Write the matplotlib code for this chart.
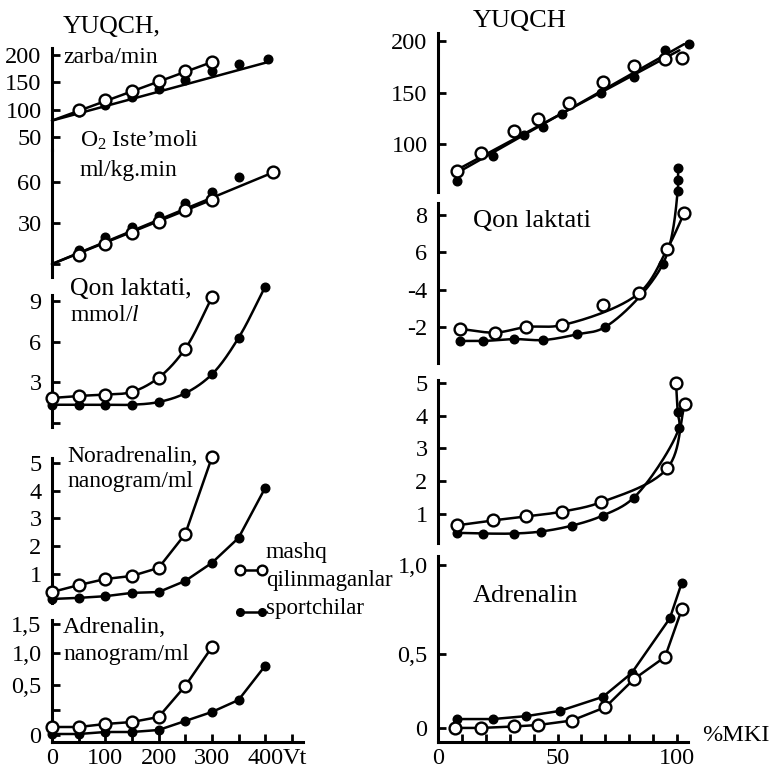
import numpy as np
import matplotlib
matplotlib.use("Agg")
import matplotlib.pyplot as plt
from matplotlib.lines import Line2D

# ---------------- data (left column: load, Vt) ----------------
watt_hr_open = [50, 100, 150, 200, 250, 300]
hr_open = [99, 118, 134, 152, 171, 187]
watt_hr_sport = [50, 100, 150, 200, 250, 300, 350, 405]
hr_sport = [96, 109, 123, 138, 154, 171, 184, 193]
hr_fit_watt_open = [0, 300]
hr_fit_open = [80, 187]
hr_fit_watt_sport = [0, 405]
hr_fit_sport = [80, 187]

watt_vo2_open = [50, 100, 150, 200, 250, 300, 415]
vo2_open = [6.6, 15, 22.6, 30.7, 39.4, 46.7, 67]
watt_vo2_sport = [50, 100, 150, 200, 250, 300, 350]
vo2_sport = [10, 19.7, 27, 35, 44.5, 53, 63.5]
vo2_fit_watt_open = [0, 300]
vo2_fit_open = [0, 47]
vo2_fit_watt_sport = [0, 415]
vo2_fit_sport = [0, 67]

watt_open = [0, 50, 100, 150, 200, 250, 300]
watt_sport = [0, 50, 100, 150, 200, 250, 300, 350, 400]
lac_open = [1.85, 2.0, 2.1, 2.3, 3.35, 5.5, 9.3]
lac_sport = [1.35, 1.35, 1.35, 1.35, 1.55, 2.2, 3.6, 6.3, 10.1]
nor_open = [0.35, 0.6, 0.82, 0.93, 1.22, 2.44, 5.2]
nor_sport = [0.1, 0.14, 0.2, 0.32, 0.35, 0.75, 1.4, 2.3, 4.1]
adr_open = [0.08, 0.08, 0.11, 0.13, 0.18, 0.49, 1.1]
adr_sport = [0.01, 0.01, 0.03, 0.03, 0.05, 0.14, 0.23, 0.35, 0.8]

# ---------------- data (right column: %MKI) ----------------
mki_hr_open = [8, 18, 32, 42, 55, 69, 82, 95, 102]
hr2_open = [74, 91, 113, 124, 140, 160, 176, 183, 184]
mki_hr_sport = [8, 23, 36, 44, 52, 68, 82, 95, 105]
hr2_sport = [64, 88, 109, 117, 129, 150, 165, 191, 197]
hr2_fit_mki_open = [8, 101]
hr2_fit_open = [75, 191]
hr2_fit_mki_sport = [8, 103]
hr2_fit_sport = [72, 197]

mki_lac_open = [9, 24, 37, 52, 69, 84, 96, 103]
lac2_open = [1.9, 1.7, 2.0, 2.1, 3.2, 3.8, 6.2, 8.1]
lac2_open_outlier = 4
mki_lac_sport = [9, 19, 32, 44, 58, 70, 94, 100.3, 100.4, 100.5]
lac2_sport = [1.25, 1.25, 1.35, 1.3, 1.6, 2.0, 5.35, 9.3, 9.85, 10.5]

mki_nor_open = [8, 23, 37, 52, 68, 96, 103.3]
nor2_open = [0.65, 0.8, 0.92, 1.07, 1.35, 2.4, 4.37]
mki_nor_sport = [8, 19, 32, 43, 56, 69, 82, 100.8, 100.3, 99.6]
nor2_sport = [0.42, 0.4, 0.4, 0.46, 0.64, 0.95, 1.5, 3.63, 4.1, 5.0]

mki_adr_open = [7, 18, 32, 42, 56, 70, 82, 95, 102]
adr2_open = [0.0, 0.0, 0.01, 0.02, 0.05, 0.14, 0.33, 0.48, 0.75]
mki_adr_sport = [8, 23, 37, 51, 69, 81, 97, 102]
adr2_sport = [0.06, 0.06, 0.08, 0.115, 0.21, 0.37, 0.70, 0.90]

# ---------------- style ----------------
W, H = 777, 770
plt.rcParams.update({
    "font.family": ["Liberation Serif", "DejaVu Serif"],
    "font.size": 17,
    "mathtext.fontset": "custom",
    "mathtext.rm": "Liberation Serif",
    "mathtext.it": "Liberation Serif:italic",
    "mathtext.default": "regular",
})
LW = 1.8
TICK_FS = 17.5
fig = plt.figure(figsize=(W / 100, H / 100), dpi=100)


def add_ax(x0, x1, yt, yb):
    ax = fig.add_axes([x0 / W, 1 - yb / H, (x1 - x0) / W, (yb - yt) / H])
    ax.patch.set_visible(False)
    for s in ("top", "right", "bottom"):
        ax.spines[s].set_visible(False)
    ax.spines["left"].set_linewidth(2.2)
    ax.tick_params(axis="y", direction="in", length=6, width=2, pad=7.5,
                   labelsize=TICK_FS)
    ax.set_xticks([])
    return ax


def piecewise_scale(ax, kv, ku):
    kv = np.asarray(kv, float)
    ku = np.asarray(ku, float)
    ax.set_yscale("function",
                  functions=(lambda v: np.interp(v, kv, ku),
                             lambda u: np.interp(u, ku, kv)))


def bottom_axis(ax, ticks, labels):
    ax.spines["bottom"].set_visible(True)
    ax.spines["bottom"].set_linewidth(2.2)
    ax.set_xticks(ticks)
    ax.set_xticklabels(labels)
    ax.tick_params(axis="x", direction="in", length=6, width=2, pad=4.5,
                   labelsize=TICK_FS)


def catmull(ax, x, y, n=30):
    P = ax.transData.transform(np.column_stack([x, y]).astype(float))
    P = np.vstack([2 * P[0] - P[1], P, 2 * P[-1] - P[-2]])
    out = []
    for i in range(len(P) - 3):
        P0, P1, P2, P3 = P[i], P[i + 1], P[i + 2], P[i + 3]
        t0 = 0.0
        t1 = t0 + max(np.linalg.norm(P1 - P0), 1e-6) ** 0.5
        t2 = t1 + max(np.linalg.norm(P2 - P1), 1e-6) ** 0.5
        t3 = t2 + max(np.linalg.norm(P3 - P2), 1e-6) ** 0.5
        t = np.linspace(t1, t2, n)[:, None]
        A1 = (t1 - t) / (t1 - t0) * P0 + (t - t0) / (t1 - t0) * P1
        A2 = (t2 - t) / (t2 - t1) * P1 + (t - t1) / (t2 - t1) * P2
        A3 = (t3 - t) / (t3 - t2) * P2 + (t - t2) / (t3 - t2) * P3
        B1 = (t2 - t) / (t2 - t0) * A1 + (t - t0) / (t2 - t0) * A2
        B2 = (t3 - t) / (t3 - t1) * A2 + (t - t1) / (t3 - t1) * A3
        C = (t2 - t) / (t2 - t1) * B1 + (t - t1) / (t2 - t1) * B2
        out.append(C)
    D = ax.transData.inverted().transform(np.vstack(out))
    return D[:, 0], D[:, 1]


def line(ax, x, y):
    ax.plot(x, y, color="black", lw=LW, clip_on=False, zorder=2,
            solid_capstyle="round")


def smooth(ax, x, y):
    sx, sy = catmull(ax, x, y)
    line(ax, sx, sy)


def mk_open(ax, x, y):
    ax.plot(x, y, ls="none", marker="o", ms=8.5, mfc="white", mec="black",
            mew=1.7, clip_on=False, zorder=4)


def mk_sport(ax, x, y):
    ax.plot(x, y, ls="none", marker="o", ms=6.2, mfc="black", mec="black",
            clip_on=False, zorder=3)


LX0, LX1, LXMAX = 52, 303, 471
RX0, RX1, RXMAX = 438, 688, 104.6

# ---- left 1: heart rate ----
a = add_ax(LX0, LX1, 48, 150)
a.set_xlim(0, LXMAX)
a.set_ylim(26.2, 212.8)
a.set_yticks([50, 100, 150, 200])
line(a, hr_fit_watt_open, hr_fit_open)
line(a, hr_fit_watt_sport, hr_fit_sport)
mk_sport(a, watt_hr_sport, hr_sport)
mk_open(a, watt_hr_open, hr_open)

# ---- left 2: VO2 ----
a = add_ax(LX0, LX1, 150, 277)
a.set_xlim(0, LXMAX)
a.set_ylim(-9.5, 83.4)
a.set_yticks([0, 30, 60])
a.set_yticklabels(["", "30", "60"])
line(a, vo2_fit_watt_open, vo2_fit_open)
line(a, vo2_fit_watt_sport, vo2_fit_sport)
mk_sport(a, watt_vo2_sport, vo2_sport)
mk_open(a, watt_vo2_open, vo2_open)

# ---- left 3: lactate ----
a = add_ax(LX0, LX1, 295, 427)
a.set_xlim(0, LXMAX)
a.set_ylim(-0.3, 9.48)
a.set_yticks([0, 3, 6, 9])
a.set_yticklabels(["", "3", "6", "9"])
smooth(a, watt_open, lac_open)
smooth(a, watt_sport, lac_sport)
mk_sport(a, watt_sport, lac_sport)
mk_open(a, watt_open, lac_open)

# ---- left 4: noradrenalin ----
a = add_ax(LX0, LX1, 458, 603)
a.set_xlim(0, LXMAX)
a.set_ylim(-0.045, 5.18)
a.set_yticks([1, 2, 3, 4, 5])
line(a, watt_open, nor_open)
line(a, watt_sport, nor_sport)
mk_sport(a, watt_sport, nor_sport)
mk_open(a, watt_open, nor_open)

# ---- left 5: adrenalin ----
a = add_ax(LX0, LX1, 620, 742)
a.set_xlim(0, LXMAX)
piecewise_scale(a, [-1, 0, 0.5, 1.0, 1.5, 3], [-100, 0, 50, 82, 111, 198])
a.set_ylim(-0.07, 1.569)
a.set_yticks([0, 0.25, 0.5, 1.0, 1.5])
a.set_yticklabels(["0", "", "0,5", "1,0", "1,5"])
a.yaxis.set_minor_locator(matplotlib.ticker.NullLocator())
bottom_axis(a, [0, 50, 100, 150, 200, 250, 300, 350, 400, 450],
            ["0", "", "100", "", "200", "", "300", "", "400", ""])
line(a, watt_open, adr_open)
line(a, watt_sport, adr_sport)
mk_sport(a, watt_sport, adr_sport)
mk_open(a, watt_open, adr_open)

# ---- right 1: heart rate ----
a = add_ax(RX0, RX1, 33, 192)
a.set_xlim(0, RXMAX)
a.set_ylim(53.4, 207.8)
a.set_yticks([100, 150, 200])
line(a, hr2_fit_mki_open, hr2_fit_open)
line(a, hr2_fit_mki_sport, hr2_fit_sport)
mk_sport(a, mki_hr_sport, hr2_sport)
mk_open(a, mki_hr_open, hr2_open)

# ---- right 2: lactate ----
a = add_ax(RX0, RX1, 203, 363)
a.set_xlim(0, RXMAX)
a.set_ylim(0.07, 8.64)
a.set_yticks([2, 4, 6, 8])
a.set_yticklabels(["-2", "-4", "6", "8"])
keep = [i for i in range(len(mki_lac_open)) if i != lac2_open_outlier]
smooth(a, [mki_lac_open[i] for i in keep], [lac2_open[i] for i in keep])
smooth(a, mki_lac_sport, lac2_sport)
mk_sport(a, mki_lac_sport, lac2_sport)
mk_open(a, mki_lac_open, lac2_open)

# ---- right 3: noradrenalin ----
a = add_ax(RX0, RX1, 380, 543)
a.set_xlim(0, RXMAX)
a.set_ylim(0.11, 5.09)
a.set_yticks([1, 2, 3, 4, 5])
smooth(a, mki_nor_open, nor2_open)
smooth(a, mki_nor_sport, nor2_sport)
mk_sport(a, mki_nor_sport[:-1], nor2_sport[:-1])
mk_open(a, mki_nor_sport[-1:], nor2_sport[-1:])
mk_open(a, mki_nor_open, nor2_open)

# ---- right 4: adrenalin ----
a = add_ax(RX0, RX1, 556, 742)
a.set_xlim(0, RXMAX)
piecewise_scale(a, [-1, 0, 0.5, 1.0, 2], [-148, 0, 74, 163, 341])
a.set_ylim(-0.095, 1.05)
a.set_yticks([0, 0.5, 1.0])
a.set_yticklabels(["0", "0,5", "1,0"])
a.yaxis.set_minor_locator(matplotlib.ticker.NullLocator())
bottom_axis(a, list(range(0, 101, 10)),
            ["0", "", "", "", "", "50", "", "", "", "", "100"])
line(a, mki_adr_open, adr2_open)
line(a, mki_adr_sport, adr2_sport)
mk_sport(a, mki_adr_sport, adr2_sport)
mk_open(a, mki_adr_open, adr2_open)

# ---------------- texts ----------------
def ftext(x, y, s, fs=17, **kw):
    fig.text(x / W, 1 - y / H, s, ha="left", va="baseline", fontsize=fs, **kw)


ftext(63, 33, "YUQCH,", 18.5)
ftext(63, 63, "zarba/min")
ftext(80, 147, r"O$_2$ Iste’moli")
ftext(80, 176, "ml/kg.min")
ftext(70, 295, "Qon laktati,", 18.5)
ftext(70, 321, r"mmol/$\mathit{l}$")
ftext(67, 462, "Noradrenalin,")
ftext(67, 487, "nanogram/ml")
ftext(63, 633, "Adrenalin,", 17.5)
ftext(63, 660, "nanogram/ml")
ftext(266, 558, "mashq")
ftext(266, 586, "qilinmaganlar", 16.5)
ftext(266, 614, "sportchilar", 16.5)
ftext(473, 27, "YUQCH", 19)
ftext(473, 227, "Qon laktati", 19)
ftext(473, 602, "Adrenalin", 19)
ftext(702, 741, "%MKI", 17.5)
ftext(283, 764, "Vt", TICK_FS)

# legend symbols
fig.add_artist(Line2D([240 / W, 262 / W], [1 - 570 / H, 1 - 570 / H],
                      transform=fig.transFigure, color="black", lw=LW,
                      marker="o", ms=7, mfc="white", mec="black", mew=1.7))
fig.add_artist(Line2D([240 / W, 262 / W], [1 - 612 / H, 1 - 612 / H],
                      transform=fig.transFigure, color="black", lw=LW,
                      marker="o", ms=5.5, mfc="black", mec="black"))

fig.savefig("out.png", dpi=100, facecolor="white")
